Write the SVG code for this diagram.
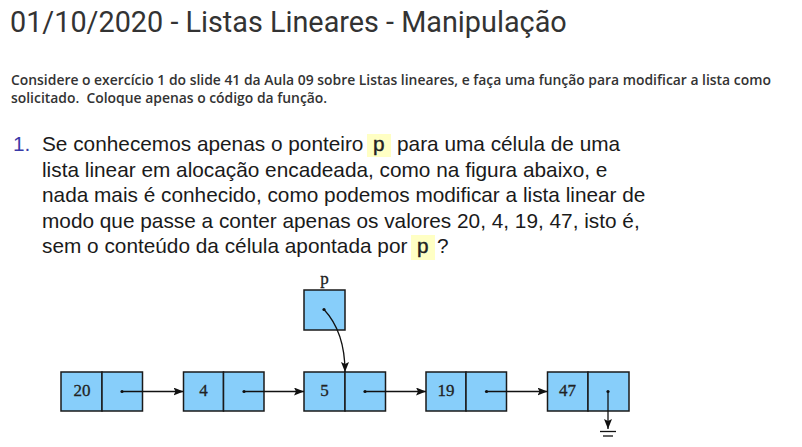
<svg xmlns="http://www.w3.org/2000/svg" width="802" height="447" viewBox="0 0 802 447">
<defs>
<style>
.title{font-family:Roboto,"Liberation Sans",sans-serif;font-size:28.8px;fill:#333}
.para{font-family:"Open Sans","Liberation Sans",sans-serif;font-size:13.9px;font-weight:600;fill:#333}
.q{font-family:"Liberation Sans",Arial,sans-serif;font-size:20.8px;fill:#1a1a1a}
.num{fill:#3a3aa8}
.code{font-family:"Liberation Mono","Courier New",monospace;font-size:21px;fill:#222;stroke:#222;stroke-width:0.4}
.codebg{fill:#ffffc4}
.cell{fill:#87cefa;stroke:#1a1a1a;stroke-width:1.5}
.val{font-family:"Liberation Serif","Times New Roman",serif;font-size:17px;fill:#222;stroke:#222;stroke-width:0.3;text-anchor:middle}
.lnk{stroke:#111;stroke-width:1.3;fill:none}
.dot{fill:#111}
</style>
<marker id="ah" viewBox="0 0 10 8" refX="10" refY="4" markerWidth="10" markerHeight="8" markerUnits="userSpaceOnUse" orient="auto">
<path d="M0,0 L10,4 L0,8 L2,4 Z" fill="#111"/>
</marker>
</defs>
<rect width="802" height="447" fill="#fff"/>
<text class="title" x="10" y="32">01/10/2020 - Listas Lineares - Manipulação</text>
<text class="para" x="11" y="85">Considere o exercício 1 do slide 41 da Aula 09 sobre Listas lineares, e faça uma função para modificar a lista como</text>
<text class="para" x="11" y="102.5">solicitado.&#160; Coloque apenas o código da função.</text>
<g id="question">
<text class="q num" x="13" y="151">1.</text>
<text class="q" x="42" y="151">Se conhecemos apenas o ponteiro</text>
<rect class="codebg" x="367" y="134" width="24" height="23"/>
<text class="code" x="372.5" y="151">p</text>
<text class="q" x="397" y="151">para uma célula de uma</text>
<text class="q" x="42" y="176.5">lista linear em alocação encadeada, como na figura abaixo, e</text>
<text class="q" x="42" y="202">nada mais é conhecido, como podemos modificar a lista linear de</text>
<text class="q" x="42" y="227.5">modo que passe a conter apenas os valores 20, 4, 19, 47, isto é,</text>
<text class="q" x="42" y="253">sem o conteúdo da célula apontada por</text>
<rect class="codebg" x="411" y="235" width="24" height="25"/>
<text class="code" x="416.5" y="253">p</text>
<text class="q" x="437" y="253">?</text>
</g>
<g id="node-p">
<text class="val" x="324.5" y="284">p</text>
<rect class="cell" x="304" y="290" width="41" height="40"/>
<circle class="dot" cx="324" cy="309.5" r="1.6"/>
</g>
<g id="node-20">
<rect class="cell" x="61" y="372" width="41" height="39"/>
<rect class="cell" x="102" y="372" width="40.5" height="39"/>
<text class="val" x="82" y="396">20</text>
<circle class="dot" cx="122" cy="391.5" r="1.6"/>
</g>
<g id="node-4">
<rect class="cell" x="183.5" y="372" width="40" height="39"/>
<rect class="cell" x="223.5" y="372" width="40.5" height="39"/>
<text class="val" x="203.5" y="396">4</text>
<circle class="dot" cx="244" cy="391.5" r="1.6"/>
</g>
<g id="node-5">
<rect class="cell" x="304" y="372" width="41" height="39"/>
<rect class="cell" x="345" y="372" width="40.5" height="39"/>
<text class="val" x="324.5" y="396">5</text>
<circle class="dot" cx="365" cy="391.5" r="1.6"/>
</g>
<g id="node-19">
<rect class="cell" x="426" y="372" width="40" height="39"/>
<rect class="cell" x="466" y="372" width="40.5" height="39"/>
<text class="val" x="446" y="396">19</text>
<circle class="dot" cx="486.5" cy="391.5" r="1.6"/>
</g>
<g id="node-47">
<rect class="cell" x="547.5" y="372" width="40.5" height="39"/>
<rect class="cell" x="588" y="372" width="41" height="39"/>
<text class="val" x="567.5" y="396">47</text>
<circle class="dot" cx="608" cy="391.5" r="1.6"/>
</g>
<g id="connectors">
<path class="lnk" d="M324,309.5 Q345,332 345,372" marker-end="url(#ah)"/>
<line class="lnk" x1="122" y1="391.5" x2="183.5" y2="391.5" marker-end="url(#ah)"/>
<line class="lnk" x1="244" y1="391.5" x2="304" y2="391.5" marker-end="url(#ah)"/>
<line class="lnk" x1="365" y1="391.5" x2="426" y2="391.5" marker-end="url(#ah)"/>
<line class="lnk" x1="486.5" y1="391.5" x2="547.5" y2="391.5" marker-end="url(#ah)"/>
<line class="lnk" x1="608" y1="391.5" x2="608" y2="429" marker-end="url(#ah)"/>
<line class="lnk" x1="600" y1="431.5" x2="616" y2="431.5"/>
<line class="lnk" x1="603" y1="436" x2="613" y2="436"/>
</g>
</svg>
